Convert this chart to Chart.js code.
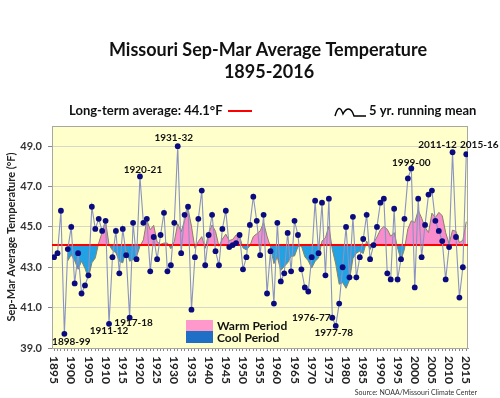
<!DOCTYPE html>
<html>
<head>
<meta charset="utf-8">
<script src="https://cdn.jsdelivr.net/npm/chart.js@4.4.1/dist/chart.umd.min.js"></script>
<style>
  html, body { margin: 0; padding: 0; background: #fff; }
</style>
</head>
<body>
<canvas id="chart" width="500" height="398"></canvas>
<script>
// Sep-Mar seasons, first year of each season (1895 = 1895-96)
var firstYear = 1895
var temps = [
  43.5, 43.7, 45.8, 39.7, 43.9, 45.0, 42.2, 43.7, 41.7, 42.1,
  42.6, 46.0, 44.9, 45.4, 44.8, 45.3, 40.2, 43.5, 44.8, 42.7,
  44.9, 43.6, 40.5, 45.2, 43.4, 47.5, 45.2, 45.4, 42.8, 44.5,
  43.4, 44.6, 45.7, 42.8, 43.1, 45.2, 49.0, 43.7, 45.6, 46.0,
  40.9, 43.5, 45.4, 46.8, 43.1, 44.6, 45.6, 43.8, 43.1, 44.9,
  45.8, 44.0, 44.1, 44.2, 44.6, 42.9, 43.5, 45.1, 46.5, 45.3,
  43.6, 45.6, 41.7, 43.8, 41.2, 45.2, 42.3, 42.7, 44.7, 42.8,
  45.3, 44.6, 42.9, 42.0, 41.8, 43.5, 46.3, 43.7, 46.2, 42.6,
  46.4, 40.5, 40.1, 41.2, 43.0, 45.0, 42.5, 45.5, 42.5, 43.5,
  44.4, 45.6, 43.4, 44.1, 45.0, 46.2, 46.4, 42.7, 42.4, 45.9,
  42.4, 43.4, 45.4, 47.4, 47.9, 42.0, 46.4, 43.5, 45.1, 46.6,
  46.8, 45.3, 44.8, 44.3, 42.4, 44.0, 48.7, 44.5, 41.5, 43.0,
  48.6
]
// 5 yr. running mean (trailing), 1899 .. 2015
var runningMean = [
  43.32, 43.62, 43.32, 42.90, 43.30, 42.94, 42.46, 43.22, 43.46, 44.20,
  44.74, 45.28, 44.12, 43.84, 43.72, 43.30, 43.22, 43.90, 43.30, 43.38,
  43.52, 44.04, 44.36, 45.34, 44.86, 45.08, 44.26, 44.14, 44.20, 44.20,
  43.92, 44.28, 45.16, 44.76, 45.32, 45.90, 45.04, 43.94, 44.28, 44.52,
  43.94, 44.68, 45.10, 44.78, 44.04, 44.40, 44.64, 44.32, 44.38, 44.60,
  44.54, 43.96, 43.86, 44.06, 44.52, 44.66, 44.80, 45.22, 44.54, 44.00,
  43.18, 43.50, 42.84, 43.04, 43.22, 43.54, 43.56, 44.02, 44.06, 43.52,
  43.32, 42.96, 43.30, 43.46, 44.30, 44.46, 45.04, 43.88, 43.16, 42.16,
  42.24, 41.96, 42.36, 43.44, 43.70, 43.80, 43.68, 44.30, 43.88, 44.20,
  44.50, 44.86, 45.02, 44.88, 44.54, 44.72, 43.96, 43.36, 43.90, 44.90,
  45.30, 45.22, 45.82, 45.44, 44.98, 44.72, 45.68, 45.46, 45.72, 45.56,
  44.72, 44.16, 44.84, 44.78, 44.22, 44.34, 45.26
]
var longTermAvg = 44.1
var yTicks = [39, 41, 43, 45, 47, 49]
var xLabelYears = [1895, 1900, 1905, 1910, 1915, 1920, 1925, 1930, 1935, 1940, 1945, 1950,
  1955, 1960, 1965, 1970, 1975, 1980, 1985, 1990, 1995, 2000, 2005, 2010, 2015]
var calloutYears = [1898, 1911, 1917, 1920, 1931, 1976, 1977, 1999, 2011, 2015]
var calloutText = ['1898-99', '1911-12', '1917-18', '1920-21', '1931-32', '1976-77', '1977-78', '1999-00', '2011-12', '2015-16']

var years = temps.map(function (t, i) { return firstYear + i })
var meanYears = years.slice(years.length - runningMean.length)

var FONT = 'Lato, "Open Sans", sans-serif'
var warmPink = '#F98CCB'
var coolBlue = '#22A2E2'

// where the callout text sits relative to its point (px)
var calloutShift = {
  1898: [7, 8], 1911: [0, 7], 1917: [4, 5], 1920: [3, -7], 1931: [-4, -8],
  1976: [-21, 0], 1977: [-2, 7], 1999: [0, -6], 2011: [-15, -7], 2015: [13, -9]
}

var decor = {
  id: 'decor',
  beforeDraw: function (chart) {
    var ctx = chart.ctx, a = chart.chartArea
    ctx.save()
    ctx.fillStyle = '#FFFFCC'
    ctx.fillRect(a.left, a.top, a.right - a.left, a.bottom - a.top)
    ctx.restore()
  },
  beforeDatasetsDraw: function (chart) {
    var ctx = chart.ctx, a = chart.chartArea
    ctx.save()
    ctx.strokeStyle = '#A8A8A0'
    ctx.lineWidth = 1
    ctx.strokeRect(a.left + 0.5, a.top + 0.5, a.right - a.left - 1, a.bottom - a.top)
    ctx.restore()
  },
  afterDatasetDraw: function (chart, args) {
    if (args.index !== 1) { return }
    var ctx = chart.ctx, a = chart.chartArea
    var y = chart.scales.y.getPixelForValue(longTermAvg)
    ctx.save()
    ctx.strokeStyle = '#FF0000'
    ctx.lineWidth = 2
    ctx.beginPath()
    ctx.moveTo(a.left, y)
    ctx.lineTo(a.right, y)
    ctx.stroke()
    ctx.restore()
  },
  afterDraw: function (chart) {
    var ctx = chart.ctx
    var xs = chart.scales.x, ys = chart.scales.y
    ctx.save()
    ctx.fillStyle = '#111'
    ctx.textAlign = 'center'
    ctx.textBaseline = 'middle'

    // title
    ctx.font = 'bold 18px ' + FONT
    ctx.fillText('Missouri Sep-Mar Average Temperature', 268, 50)
    ctx.fillText('1895-2016', 269, 72)

    // top legend row
    ctx.font = 'bold 13px ' + FONT
    ctx.textAlign = 'left'
    ctx.fillText('Long-term average: 44.1\u00B0F', 69, 111)
    ctx.fillText('5 yr. running mean', 369, 111)
    ctx.strokeStyle = '#FF0000'
    ctx.lineWidth = 2
    ctx.beginPath(); ctx.moveTo(228, 111); ctx.lineTo(252, 111); ctx.stroke()
    ctx.strokeStyle = '#000'
    ctx.lineWidth = 1.4
    ctx.beginPath()
    ctx.moveTo(335, 116)
    ctx.quadraticCurveTo(339, 102, 343, 114)
    ctx.bezierCurveTo(346, 108, 351, 106, 354, 116)
    ctx.lineTo(366, 116)
    ctx.stroke()

    // x labels, rotated clockwise
    ctx.font = 'bold 12px ' + FONT
    ctx.fillStyle = '#222'
    xLabelYears.forEach(function (yr) {
      ctx.save()
      ctx.translate(xs.getPixelForValue(yr), 356)
      ctx.rotate(Math.PI / 2)
      ctx.textAlign = 'left'
      ctx.fillText(String(yr), 0, 0)
      ctx.restore()
    })

    // callouts
    ctx.font = 'bold 10px ' + FONT
    ctx.fillStyle = '#111'
    ctx.textAlign = 'center'
    calloutYears.forEach(function (yr, i) {
      var v = temps[yr - firstYear]
      var s = calloutShift[yr]
      ctx.fillText(calloutText[i], xs.getPixelForValue(yr) + s[0], ys.getPixelForValue(v) + s[1])
    })

    // warm / cool legend
    ctx.fillStyle = '#FF99CC'
    ctx.fillRect(186, 320, 27, 11)
    ctx.fillStyle = '#1F6FC6'
    ctx.fillRect(186, 331, 27, 12)
    ctx.fillStyle = '#111'
    ctx.textAlign = 'left'
    ctx.font = 'bold 12px ' + FONT
    ctx.fillText('Warm Period', 217, 326)
    ctx.fillText('Cool Period', 217, 338)

    // source
    ctx.font = '7px ' + FONT
    ctx.fillStyle = '#333'
    ctx.textAlign = 'right'
    ctx.fillText('Source: NOAA/Missouri Climate Center', 477, 393)
    ctx.restore()
  }
}

document.addEventListener('DOMContentLoaded', function () {
  var ctx = document.getElementById('chart').getContext('2d')
  new Chart(ctx, {
    type: 'line',
    data: {
      datasets: [{
        label: 'Sep-Mar average',
        data: years.map(function (yr, i) { return { x: yr, y: temps[i] } }),
        borderColor: '#8A93C2',
        borderWidth: 1.1,
        pointRadius: 2.9,
        pointBorderWidth: 0,
        pointBackgroundColor: '#0B0B80',
        tension: 0,
        fill: false
      }, {
        label: '5 yr. running mean',
        data: meanYears.map(function (yr, i) { return { x: yr, y: runningMean[i] } }),
        borderColor: '#85826A',
        borderWidth: 1,
        pointRadius: 0,
        tension: 0,
        fill: { target: { value: longTermAvg }, above: warmPink, below: coolBlue }
      }]
    },
    options: {
      responsive: false,
      animation: false,
      layout: { padding: { top: 126, right: 32, left: 0, bottom: 0 } },
      plugins: {
        legend: { display: false },
        title: { display: false },
        tooltip: { enabled: false }
      },
      scales: {
        x: {
          type: 'linear',
          min: 1894.4,
          max: 2015.5,
          afterBuildTicks: function (s) { s.ticks = years.map(function (v) { return { value: v } }) },
          afterFit: function (s) { s.height = 50 },
          ticks: { display: false },
          grid: { drawOnChartArea: false, tickLength: 3, tickColor: '#888' },
          border: { color: '#A8A8A0' }
        },
        y: {
          min: 39,
          max: 50,
          afterBuildTicks: function (s) { s.ticks = yTicks.map(function (v) { return { value: v } }) },
          afterFit: function (s) { s.width = 52 },
          ticks: {
            callback: function (v) { return v.toFixed(1) },
            font: { family: FONT, weight: 'bold', size: 11 },
            color: '#333',
            padding: 6
          },
          grid: { color: '#D8D8C8', tickLength: 4, tickColor: '#888' },
          border: { color: '#A8A8A0' },
          title: {
            display: true,
            text: 'Sep-Mar Average Temperature (\u00B0F)',
            font: { family: FONT, weight: 'bold', size: 11 },
            color: '#222',
            padding: { top: 5, bottom: 0 }
          }
        }
      }
    },
    plugins: [decor]
  })
})
</script>
</body>
</html>
